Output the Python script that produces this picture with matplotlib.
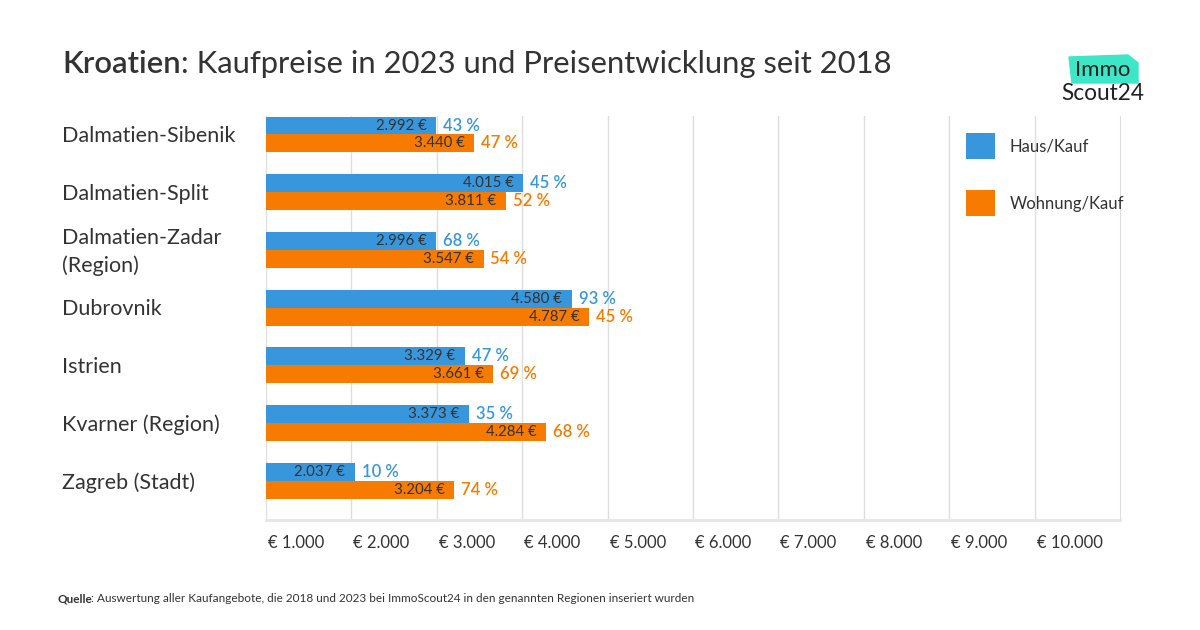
import numpy as np
import matplotlib
matplotlib.use("Agg")
from matplotlib import pyplot as plt
from matplotlib.patches import Polygon
import matplotlib.transforms as mtrans

plt.rcParams['font.family'] = ['Lato', 'DejaVu Sans']

regionen = ['Dalmatien-Sibenik', 'Dalmatien-Split', 'Dalmatien-Zadar\n(Region)',
            'Dubrovnik', 'Istrien', 'Kvarner (Region)', 'Zagreb (Stadt)']
haus = [2992, 4015, 2996, 4580, 3329, 3373, 2037]
wohnung = [3440, 3811, 3547, 4787, 3661, 4284, 3204]
haus_pct = [43, 45, 68, 93, 47, 35, 10]
wohnung_pct = [47, 52, 54, 45, 69, 68, 74]
ticks = [1000, 2000, 3000, 4000, 5000, 6000, 7000, 8000, 9000, 10000]

blau = '#3897dc'
orange = '#f77b00'
dunkel = '#333333'

def eur(v):
    return f'{v:,}'.replace(',', '.')

fig = plt.figure(figsize=(12, 6.3), dpi=100)
ax = fig.add_axes([266/1200, 1-520/630, 854/1200, 404/630])

y = np.arange(len(regionen))
h = 0.31
ax.barh(y - h/2, haus, height=h, color=blau, label='Haus/Kauf', zorder=2)
ax.barh(y + h/2, wohnung, height=h, color=orange, label='Wohnung/Kauf', zorder=2)

for i in range(len(regionen)):
    for v, p, off, c in [(haus[i], haus_pct[i], -h/2, blau), (wohnung[i], wohnung_pct[i], h/2, orange)]:
        ax.annotate(eur(v) + ' €', (v, i + off), xytext=(-7, 0), textcoords='offset points',
                    ha='right', va='center', fontsize=10.8, color=dunkel, zorder=3)
        ax.annotate(f'{p} %', (v, i + off), xytext=(5, 0), textcoords='offset points',
                    ha='left', va='center', fontsize=12, color=c, fontweight='semibold', zorder=3)

ax.set_xlim(1000, 11000)
ax.set_ylim(6.68, -0.32)
ax.set_xticks(ticks)
ax.set_xticklabels(['€ ' + eur(t) for t in ticks], ha='left', fontsize=12, color=dunkel)
ax.tick_params(axis='x', length=0, pad=11)
offs = mtrans.ScaledTranslation(2/100, 0, fig.dpi_scale_trans)
for lab in ax.get_xticklabels():
    lab.set_transform(lab.get_transform() + offs)
ax.set_yticks([])
ax.grid(axis='x', color='#dedede', linewidth=1, zorder=0)
for s in ['top', 'left']:
    ax.spines[s].set_visible(False)
ax.spines['right'].set_color('#dedede')
ax.spines['bottom'].set_color('#e6e6e6')
ax.spines['bottom'].set_linewidth(2)

for i, r in enumerate(regionen):
    ax.text(-0.2384, i + 0.03, r, transform=ax.get_yaxis_transform(), ha='left', va='center',
            fontsize=15.5, color=dunkel, linespacing=1.45)

ax.legend(loc='upper left', bbox_to_anchor=(0.8197, 0.957), frameon=False, fontsize=12,
          handlelength=1.75, handleheight=2.0, labelspacing=1.88, handletextpad=0.85,
          borderpad=0, borderaxespad=0, labelcolor=dunkel)

# Titel
t1 = fig.text(62/1200, 1-73/630, 'Kroatien', fontsize=22.3, fontweight='semibold', color='#333333')
fig.canvas.draw()
bb = t1.get_window_extent()
fig.text(bb.x1/1200, 1-73/630, ': Kaufpreise in 2023 und Preisentwicklung seit 2018',
         fontsize=22.3, fontweight='normal', color='#333333')

# Logo
logo = Polygon([(1069/1200, 1-57/630), (1128/1200, 1-55/630), (1138/1200, 1-63/630),
                (1138/1200, 1-83/630), (1072/1200, 1-83/630)], closed=True,
               transform=fig.transFigure, color='#3de6c6', zorder=1)
fig.patches.append(logo)
fig.text(1103/1200, 1-70/630, 'Immo', ha='center', va='center', fontsize=16, color='#222222', zorder=2)
fig.text(1103/1200, 1-93/630, 'Scout24', ha='center', va='center', fontsize=16.3, color='#222222', zorder=2)

# Quelle
q1 = fig.text(57/1200, 1-602/630, 'Quelle', fontsize=8.5, fontweight='bold', color='#333333')
fig.canvas.draw()
bq = q1.get_window_extent()
fig.text((bq.x1 - 1)/1200, 1-602/630, ': Auswertung aller Kaufangebote, die 2018 und 2023 bei ImmoScout24 in den genannten Regionen inseriert wurden',
         fontsize=8.5, color='#333333')

fig.savefig('out.png', dpi=100)
